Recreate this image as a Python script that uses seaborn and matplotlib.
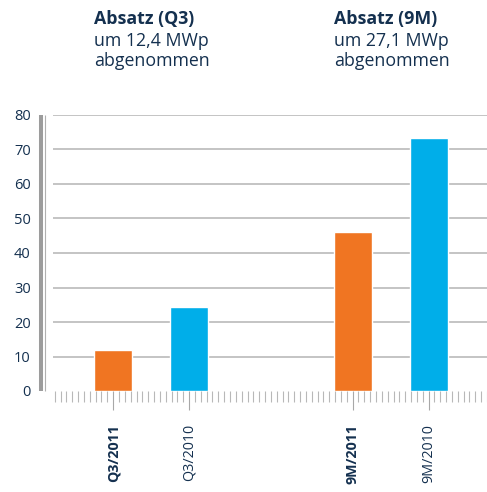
import matplotlib
matplotlib.use("Agg")
import matplotlib.pyplot as plt
from matplotlib.lines import Line2D
from matplotlib.ticker import MultipleLocator
from matplotlib.transforms import blended_transform_factory
import seaborn as sns
import numpy as np
import pandas as pd

# Datos (MWp)
labels = ["Q3/2011", "Q3/2010", "9M/2011", "9M/2010"]
years = ["2011", "2010", "2011", "2010"]
values = [12.0, 24.3, 46.0, 73.2]
titles = ["Absatz (Q3)", "Absatz (9M)"]
subtitles = ["um 12,4 MWp\nabgenommen", "um 27,1 MWp\nabgenommen"]

colors = {"2011": "#f07522", "2010": "#00aee9"}
navy = "#14304f"

# posiciones en el eje x (la escala de marcas menores es 1/13)
xpos = np.array([0, 13, 41, 54]) / 13

df = pd.DataFrame({"pos": xpos, "valor": values, "anio": years, "etiqueta": labels})

sns.set_style("white")
plt.rcParams["font.family"] = ["Open Sans", "DejaVu Sans"]

fig = plt.figure(figsize=(4.87, 4.92), dpi=100)
ax = fig.add_axes([53 / 487, 101 / 492, 434 / 487, 276 / 492])

sns.barplot(data=df, x="pos", y="valor", hue="anio", palette=colors,
            native_scale=True, width=0.5, dodge=False, legend=False,
            saturation=1, ax=ax)

ax.set_xlim(-10.3 / 13, 64 / 13)
ax.set_ylim(0, 80)
ax.set_yticks(range(0, 81, 10))
ax.yaxis.grid(True, color="#bababa", linewidth=1.2)
ax.xaxis.grid(False)
ax.yaxis.get_gridlines()[0].set_visible(False)
ax.set_axisbelow(True)
for s in ax.spines.values():
    s.set_visible(False)

ax.set_xlabel("")
ax.set_ylabel("")
ax.set_xticks(xpos)
ax.set_xticklabels(labels, rotation=90, fontsize=10.3, color=navy, va="top")
for lab, yr in zip(ax.get_xticklabels(), years):
    if yr == "2011":
        lab.set_fontweight("bold")
ax.xaxis.set_minor_locator(MultipleLocator(1 / 13))
ax.tick_params(axis="x", which="both", bottom=True)
ax.tick_params(axis="x", which="major", length=14, width=0.8, color="#a8a8a8",
               pad=10, direction="out")
ax.tick_params(axis="x", which="minor", length=8, width=0.8, color="#b8b8b8",
               direction="out")
ax.tick_params(axis="y", length=0, pad=16, labelsize=10.5, labelcolor=navy)

# barra doble decorativa a la izquierda
fig.add_artist(Line2D([41.3 / 487] * 2, [101 / 492, 377 / 492], transform=fig.transFigure,
                      color="#9c9c9c", linewidth=2.9, solid_capstyle="butt"))
fig.add_artist(Line2D([45.2 / 487] * 2, [101 / 492, 377 / 492], transform=fig.transFigure,
                      color="#b0b0b0", linewidth=0.8, solid_capstyle="butt"))

# textos de encabezado, alineados con el borde izquierdo de las barras naranjas
trans = blended_transform_factory(ax.transData, fig.transFigure)
for x0, t, st in zip([xpos[0], xpos[2]], titles, subtitles):
    ax.text(x0 - 0.25, 1 - 24.3 / 492, t, transform=trans, fontsize=12.8,
            fontweight="bold", color=navy, va="baseline", ha="left")
    for i, line in enumerate(st.split("\n")):
        ax.text(x0 - 0.25, 1 - (45.5 + 21 * i) / 492, line, transform=trans,
                fontsize=12.8, color=navy, va="baseline", ha="left")

plt.savefig("out.png", dpi=100)
print("Grafico guardado como out.png")
